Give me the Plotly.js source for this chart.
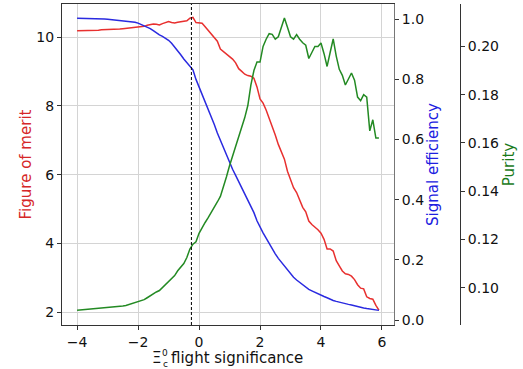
<!DOCTYPE html>
<html>
<head>
<meta charset="utf-8">
<script src="https://cdn.plot.ly/plotly-3.0.1.min.js"></script>
<style>html,body{margin:0;padding:0;background:#fff;}#chart{width:523px;height:369px;}</style>
</head>
<body>
<div id="chart"></div>
<script>
// x values: flight significance cut
const xCut = [-4.0,-3.9,-3.8,-3.7,-3.6,-3.5,-3.4,-3.3,-3.2,-3.1,-3.0,-2.9,-2.8,-2.7,-2.6,-2.5,-2.4,-2.3,-2.2,-2.1,
  -2.0,-1.9,-1.8,-1.7,-1.6,-1.5,-1.4,-1.3,-1.2,-1.1,-1.0,-0.9,-0.8,-0.7,-0.6,-0.5,-0.4,-0.3,-0.2,-0.1,
  0.0,0.1,0.2,0.3,0.4,0.5,0.6,0.7,0.8,0.9,1.0,1.1,1.2,1.3,1.4,1.5,1.6,1.7,1.8,1.9,
  2.0,2.1,2.2,2.3,2.4,2.5,2.6,2.7,2.8,2.9,3.0,3.1,3.2,3.3,3.4,3.5,3.6,3.7,3.8,3.9,
  4.0,4.1,4.2,4.3,4.4,4.5,4.6,4.7,4.8,4.9,5.0,5.1,5.2,5.3,5.4,5.5,5.6,5.7,5.8,5.9];

const figureOfMerit = [10.18,10.18,10.19,10.19,10.19,10.20,10.20,10.20,10.21,10.21,10.21,10.22,10.22,10.23,10.23,10.24,10.25,10.26,10.26,10.27,
  10.29,10.30,10.31,10.34,10.37,10.38,10.37,10.35,10.39,10.43,10.45,10.42,10.41,10.43,10.44,10.45,10.47,10.55,10.57,10.42,
  10.40,10.40,10.30,10.20,10.10,10.00,9.88,9.65,9.58,9.52,9.45,9.36,9.25,9.08,9.00,8.92,8.88,8.86,8.80,8.55,
  8.20,8.08,7.88,7.65,7.42,7.15,6.88,6.65,6.45,6.10,5.85,5.62,5.48,5.28,5.05,4.92,4.65,4.55,4.48,4.40,
  4.30,4.12,3.84,3.84,3.78,3.50,3.35,3.20,3.12,3.10,3.05,2.95,2.80,2.70,2.68,2.45,2.40,2.38,2.20,2.06];

const signalEfficiency = [1.003,1.003,1.003,1.003,1.003,1.002,1.002,1.002,1.001,1.001,1.000,0.999,0.999,0.998,0.997,0.996,0.995,0.994,0.992,0.990,
  0.987,0.983,0.979,0.975,0.969,0.962,0.954,0.948,0.943,0.937,0.930,0.920,0.908,0.895,0.882,0.868,0.857,0.845,0.832,0.800,
  0.776,0.750,0.726,0.703,0.678,0.650,0.622,0.597,0.572,0.547,0.524,0.501,0.481,0.460,0.440,0.420,0.400,0.380,0.357,0.330,
  0.307,0.290,0.272,0.253,0.236,0.220,0.205,0.192,0.179,0.166,0.153,0.142,0.133,0.125,0.117,0.109,0.102,0.097,0.092,0.086,
  0.082,0.078,0.074,0.069,0.065,0.062,0.059,0.056,0.054,0.052,0.050,0.047,0.045,0.042,0.040,0.038,0.036,0.035,0.033,0.032];

const purity = [0.0906,0.0907,0.0908,0.0909,0.0910,0.0911,0.0912,0.0913,0.0914,0.0915,0.0916,0.0918,0.0919,0.0920,0.0922,0.0924,0.0926,0.0930,0.0933,0.0937,
  0.0940,0.0945,0.0950,0.0958,0.0967,0.0975,0.0982,0.0988,0.1000,0.1015,0.1025,0.1038,0.1050,0.1070,0.1085,0.1100,0.1125,0.1160,0.1180,0.1190,
  0.1225,0.1250,0.1270,0.1290,0.1310,0.1335,0.1355,0.1378,0.1415,0.1460,0.1505,0.1545,0.1580,0.1625,0.1660,0.1705,0.1755,0.1840,0.1900,0.1935,
  0.1935,0.2000,0.2030,0.2053,0.2050,0.2030,0.2040,0.2080,0.2118,0.2080,0.2040,0.2030,0.2049,0.2030,0.2015,0.2005,0.1950,0.1975,0.2000,0.2000,
  0.2014,0.1970,0.1917,0.1975,0.2031,0.1960,0.1905,0.1880,0.1840,0.1865,0.1890,0.1860,0.1790,0.1775,0.1800,0.1790,0.1650,0.1696,0.1620,0.1620];

const xTicks = [-4,-2,0,2,4,6];
const fomTicks = [2,4,6,8,10];
const effTicks = [0.0,0.2,0.4,0.6,0.8,1.0];
const purityTicks = [0.10,0.12,0.14,0.16,0.18,0.20];
const chosenCut = -0.25;

const FONT = 'DejaVu Sans, sans-serif';
const RED = '#e8302f', BLUE = '#2a2ae0', GREEN = '#238a23';
const TITLE_SIZE = 15;

const traces = [
  {x: xCut, y: figureOfMerit, type: 'scatter', mode: 'lines', line: {color: RED, width: 1.5}, yaxis: 'y', hoverinfo: 'skip'},
  {x: xCut, y: signalEfficiency, type: 'scatter', mode: 'lines', line: {color: BLUE, width: 1.5}, yaxis: 'y2', hoverinfo: 'skip'},
  {x: xCut, y: purity, type: 'scatter', mode: 'lines', line: {color: GREEN, width: 1.5}, yaxis: 'y3', hoverinfo: 'skip'}
];

const axisCommon = {
  ticks: 'outside', ticklen: 4, tickwidth: 1, tickcolor: '#333',
  showline: true, linecolor: '#333', linewidth: 1, zeroline: false,
  tickfont: {family: FONT, size: 14, color: '#111'}
};

// pixel -> paper helpers for the x-axis title pieces (plot area: x 62..460, y 4..325)
const px = v => (v - 62) / 398;
const py = v => (325 - v) / 321;

function piece(text, x, y, size, anchor) {
  return {text: text, xref: 'paper', yref: 'paper', x: px(x), y: py(y),
    xanchor: anchor, yanchor: 'middle', showarrow: false, borderpad: 0,
    font: {family: FONT, size: size, color: '#111'}};
}

const layout = {
  width: 523, height: 369,
  margin: {l: 62, r: 63, t: 4, b: 44, pad: 0},
  paper_bgcolor: '#fff', plot_bgcolor: '#fff',
  showlegend: false,
  font: {family: FONT, size: 14, color: '#111'},
  xaxis: Object.assign({}, axisCommon, {
    domain: [0, 0.8342], range: [-4.495, 6.395], tickvals: xTicks,
    showgrid: true, gridcolor: '#d4d4d4', gridwidth: 1, mirror: true
  }),
  yaxis: Object.assign({}, axisCommon, {
    range: [1.63, 10.96], tickvals: fomTicks,
    showgrid: true, gridcolor: '#d4d4d4', gridwidth: 1,
    title: {text: 'Figure of merit', font: {family: FONT, size: TITLE_SIZE, color: '#d62728'}, standoff: 1}
  }),
  yaxis2: Object.assign({}, axisCommon, {
    overlaying: 'y', side: 'right', anchor: 'x',
    range: [-0.0166, 1.0506], tickvals: effTicks, tickformat: '.1f',
    showgrid: false, linecolor: '#777',
    title: {text: 'Signal efficiency', font: {family: FONT, size: TITLE_SIZE, color: '#2020e0'}, standoff: 3}
  }),
  yaxis3: Object.assign({}, axisCommon, {
    overlaying: 'y', side: 'right', anchor: 'free', position: 1,
    range: [0.0845, 0.2176], tickvals: purityTicks, tickformat: '.2f',
    showgrid: false,
    title: {text: 'Purity', font: {family: FONT, size: TITLE_SIZE, color: '#1a7a1a'}, standoff: 5}
  }),
  annotations: [
    piece('Ξ', 156.5, 358, TITLE_SIZE, 'center'),
    piece('0', 165, 353, 9, 'center'),
    piece('c', 165, 364, 9, 'center'),
    piece('flight significance', 169.5, 357.5, TITLE_SIZE, 'left')
  ],
  shapes: [
    {type: 'line', xref: 'x', yref: 'paper', x0: chosenCut, x1: chosenCut, y0: 0, y1: 1,
     line: {color: '#000', width: 1, dash: '3px,2px'}}
  ]
};

Plotly.newPlot('chart', traces, layout, {staticPlot: true, displayModeBar: false});
</script>
</body>
</html>
